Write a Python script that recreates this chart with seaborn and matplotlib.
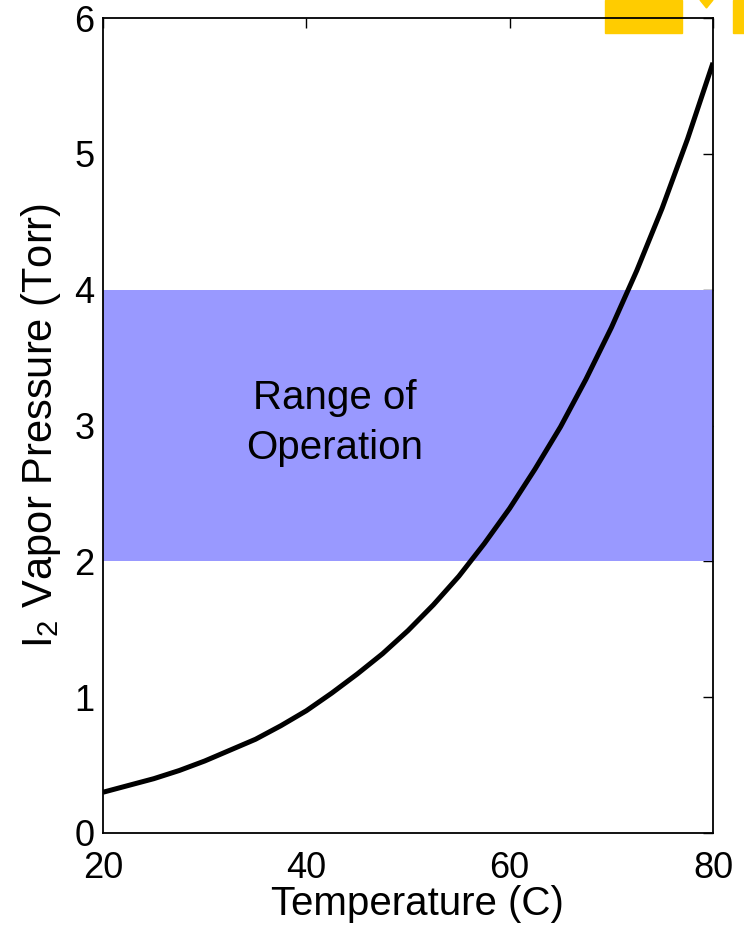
import numpy as np
import pandas as pd
import seaborn as sns
import matplotlib
matplotlib.use("Agg")
import matplotlib.pyplot as plt
from matplotlib.patches import Rectangle, Polygon

# ---- data ----
temperature_c = [20, 22.5, 25, 27.5, 30, 32.5, 35, 37.5, 40, 42.5, 45, 47.5, 50,
                 52.5, 55, 57.5, 60, 62.5, 65, 67.5, 70, 72.5, 75, 77.5, 80]
vapor_pressure_torr = [0.30, 0.35, 0.40, 0.46, 0.53, 0.61, 0.69, 0.79, 0.90, 1.03,
                       1.17, 1.32, 1.49, 1.68, 1.89, 2.13, 2.39, 2.68, 2.99, 3.34,
                       3.72, 4.14, 4.60, 5.11, 5.67]
operation_range = [2, 4]
band_label = "Range of\nOperation"
x_ticks = [20, 40, 60, 80]
y_ticks = [0, 1, 2, 3, 4, 5, 6]

df = pd.DataFrame({"T": temperature_c, "P": vapor_pressure_torr})

sns.set_theme(style="white")
plt.rcParams["font.family"] = ["Liberation Sans", "DejaVu Sans"]
plt.rcParams["mathtext.fontset"] = "custom"
plt.rcParams["mathtext.rm"] = "Liberation Sans"
plt.rcParams["mathtext.it"] = "Liberation Sans"
plt.rcParams["text.color"] = "black"
plt.rcParams["axes.labelcolor"] = "black"

fig = plt.figure(figsize=(7.44, 9.27), dpi=100, facecolor="white")
ax = fig.add_axes([103/744, 1-833/927, 610/744, 815/927])
ax.set_facecolor("none")

ax.axhspan(operation_range[0], operation_range[1], color="#9999ff", lw=0, zorder=1)
sns.lineplot(data=df, x="T", y="P", ax=ax, color="black", lw=3.6, zorder=3,
             solid_joinstyle="round", solid_capstyle="butt")

ax.text(42.8, 3.02, band_label, ha="center", va="center", fontsize=29,
        linespacing=1.4, color="black")

ax.set_xlim(20, 80)
ax.set_ylim(0, 6)
ax.set_xticks(x_ticks)
ax.set_yticks(y_ticks)
ax.tick_params(direction="in", length=7, width=1, top=True, right=True,
               labelsize=26, colors="black")
ax.tick_params(axis="x", pad=13)
ax.tick_params(axis="y", pad=6)
ax.set_xlabel("Temperature (C)", fontsize=29, labelpad=-1)
ax.xaxis.label.set_x(0.516)
ax.set_ylabel(r"I$_2$ Vapor Pressure (Torr)", fontsize=30, labelpad=8)
for s in ax.spines.values():
    s.set_color("black")
    s.set_linewidth(1.3)
    s.set_zorder(5)

# decorative yellow shapes at the top right
yellow = "#ffcc00"
fig.patches.append(Rectangle((605/744, 1-33/927), 77/744, 33/927,
                             transform=fig.transFigure, color=yellow, zorder=-1))
fig.patches.append(Polygon([(700/744, 1.0), (713/744, 1.0), (706.5/744, 1-8/927)],
                           closed=True, transform=fig.transFigure, color=yellow, zorder=-1))
fig.patches.append(Rectangle((733/744, 1-33/927), 11/744, 33/927,
                             transform=fig.transFigure, color=yellow, zorder=-1))

fig.savefig("out.png", dpi=100, facecolor="white")
